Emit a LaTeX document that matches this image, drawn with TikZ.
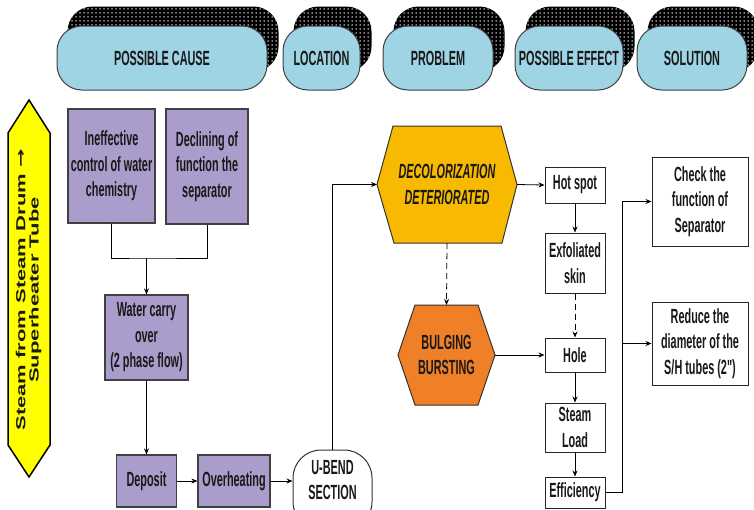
\documentclass[tikz,border=0pt]{standalone}
\usepackage{fontspec}
\newfontfamily\cnd[FakeStretch=0.53]{Liberation Sans}
\newfontfamily\rfnt{Liberation Sans}
\newfontfamily\djv{DejaVu Sans}
\usetikzlibrary{arrows.meta,patterns,calc}
\definecolor{hblue}{RGB}{158,212,228}
\definecolor{lav}{RGB}{170,157,204}
\definecolor{ylw}{RGB}{255,255,0}
\definecolor{decol}{RGB}{247,186,0}
\definecolor{bulg}{RGB}{240,128,40}
\definecolor{ink}{RGB}{25,25,25}
\pgfdeclarepatternformonly{bigdots}{\pgfqpoint{-1pt}{-1pt}}{\pgfqpoint{1pt}{1pt}}{\pgfqpoint{4pt}{4pt}}{%
  \pgfpathcircle{\pgfqpoint{0pt}{0pt}}{0.75pt}\pgfusepath{fill}}
\pgfdeclarelayer{bg}
\pgfsetlayers{bg,main}
\tikzset{
  txt/.style={font=\cnd\bfseries\fontsize{20.5}{25.5}\selectfont, text=ink, align=center, inner sep=0pt},
  pill/.style={txt, draw=black!75, line width=1pt, fill=hblue, rounded corners=25pt, minimum height=64},
  pbox/.style={txt, draw=black!75, line width=1.2pt, fill=lav},
  wbox/.style={txt, draw=black!85, line width=1pt, fill=white},
  hexl/.style={txt, outer sep=0pt},
  ubend/.style={draw=black!80, line width=1pt, fill=white, rounded corners=28pt},
  arr/.style={-{Stealth[length=6pt,width=5pt]}, line width=0.8pt, draw=black},
  ln/.style={line width=0.8pt, draw=black},
  dsh/.style={arr, dash pattern=on 6pt off 4pt},
}
\begin{document}
\begin{tikzpicture}[x=1pt,y=-1pt]
\useasboundingbox (0,0) rectangle (754,509);

% header pills
\node[pill, minimum width=210] (p1) at (162,58) {POSSIBLE CAUSE};
\node[pill, minimum width=77]  (p2) at (321.5,58) {LOCATION};
\node[pill, minimum width=110] (p3) at (438,58) {PROBLEM};
\node[pill, minimum width=108] (p4) at (569,58) {POSSIBLE EFFECT};
\node[pill, minimum width=110] (p5) at (692,58) {SOLUTION};
\begin{pgfonlayer}{bg}
\foreach \p in {p1,p2,p3,p4,p5}
  \fill[black, rounded corners=25pt, postaction={pattern=bigdots, pattern color=white}]
    ($(\p.south west)+(11,-19)$) rectangle ($(\p.north east)+(11,-19)$);
\end{pgfonlayer}

% yellow double arrow
\node[outer sep=0pt, inner sep=0pt, minimum width=42, minimum height=377] (ya) at (29,288.5) {};
\fill[ylw, draw=black, line width=1.5pt, line join=miter]
  (ya.north) -- ($(ya.north east)+(0,33)$) -- ($(ya.south east)+(0,-32)$) -- (ya.south)
  -- ($(ya.south west)+(0,-32)$) -- ($(ya.north west)+(0,33)$) -- cycle;
\node[text=ink] (yt) at (29,290) {\rotatebox{90}{\scalebox{1}[0.6]{\rfnt\bfseries\fontsize{22}{20}\selectfont
  \begin{tabular}{@{}c@{}}Steam from Steam Drum {\djv\bfseries →}\\Superheater Tube\end{tabular}}}};

% possible cause boxes
\node[pbox, minimum width=87, minimum height=114] (inef) at (111.5,166) {Ineffective\\control of water\\chemistry};
\node[pbox, minimum width=82, minimum height=115] (decl) at (207,166.5) {Declining of\\function the\\separator};
\node[pbox, minimum width=83, minimum height=85] (water) at (146.5,337.5) {Water carry\\over\\(2 phase flow)};
\node[pbox, minimum width=60, minimum height=52] (dep) at (146.5,481) {Deposit};
\node[pbox, minimum width=72, minimum height=52] (ovh) at (234,481) {Overheating};
\coordinate (mj) at (146.5,258);
\draw[ln] (inef.south) |- (mj) -| (decl.south);
\draw[arr] (mj) -- (water.north);
\draw[arr] (water.south) -- (dep.north);
\draw[arr] (dep.east) -- (ovh.west);

% U-bend
\node[ubend, minimum width=79, minimum height=80] (ub) at (332.5,490) {};
\node[txt] (ubt) at (332.5,480) {U-BEND\\SECTION};
\draw[arr] (ovh.east) -- (ovh.east -| ub.west);

% problem hexagons
\node[hexl, minimum width=140, minimum height=117] (dec) at (447,184.5) {\itshape DECOLORIZATION\\\itshape DETERIORATED};
\node[hexl, minimum width=97, minimum height=100] (bul) at (446.5,355) {BULGING\\BURSTING};
\begin{pgfonlayer}{bg}
\fill[decol, draw=black!80, line width=1pt] (dec.west) -- ($(dec.north west)+(16,0)$) -- ($(dec.north east)+(-16,0)$)
  -- (dec.east) -- ($(dec.south east)+(-15,0)$) -- ($(dec.south west)+(17,0)$) -- cycle;
\fill[bulg, draw=black!80, line width=1pt] (bul.west) -- ($(bul.north west)+(17,0)$) -- ($(bul.north east)+(-17,0)$)
  -- (bul.east) -- ($(bul.south east)+(-17,0)$) -- ($(bul.south west)+(17,0)$) -- cycle;
\end{pgfonlayer}
\draw[arr] (ub.north) |- (dec.west);
\draw[dsh] (dec.south) -- (bul.north);

% possible effects
\node[wbox, minimum width=60, minimum height=36] (hot) at (575,185) {Hot spot};
\node[wbox, minimum width=60, minimum height=60] (exf) at (575,263) {Exfoliated\\skin};
\node[wbox, minimum width=60, minimum height=34] (hole) at (575,355) {Hole};
\node[wbox, minimum width=60, minimum height=49] (stm) at (575,427.5) {Steam\\Load};
\node[wbox, minimum width=60, minimum height=31] (eff) at (575,492.5) {Efficiency};
\draw[arr] (dec.east) -- (hot.west);
\draw[arr] (bul.east) -- (hole.west);
\draw[arr] (hot.south) -- (exf.north);
\draw[dsh] (exf.south) -- (hole.north);
\draw[arr] (hole.south) -- (stm.north);
\draw[arr] (stm.south) -- (eff.north);

% solutions
\node[wbox, minimum width=96, minimum height=89] (chk) at (700,201.5) {Check the\\function of\\Separator};
\node[wbox, minimum width=96, minimum height=83] (red) at (700,343.5) {Reduce the\\diameter of the\\S/H tubes (2")};
\coordinate (bus) at (622,0);
\draw[arr] (eff.east) -| (bus |- chk.west) -- (chk.west);
\draw[arr] (bus |- red.west) -- (red.west);
\end{tikzpicture}
\end{document}
